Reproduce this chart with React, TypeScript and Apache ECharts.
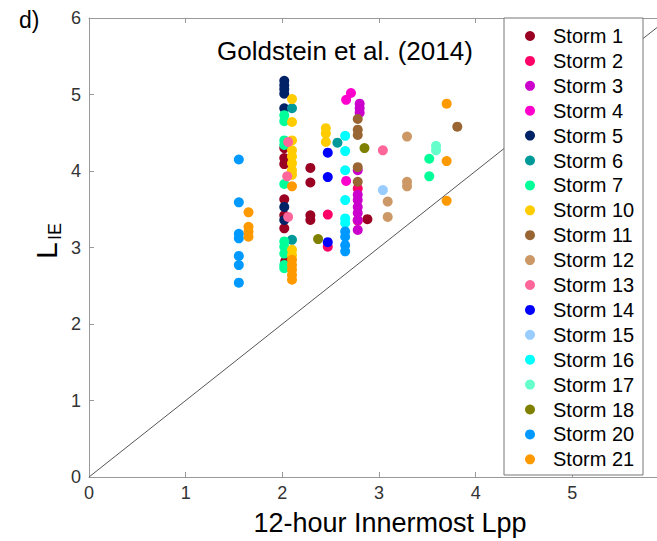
import React, { useEffect, useRef } from "react";
import * as echarts from "echarts";

const storms = ["Storm 1", "Storm 2", "Storm 3", "Storm 4", "Storm 5", "Storm 6", "Storm 7", "Storm 10", "Storm 11", "Storm 12", "Storm 13", "Storm 14", "Storm 15", "Storm 16", "Storm 17", "Storm 18", "Storm 20", "Storm 21"];
const colors = ["#990022", "#ff0066", "#cc00cc", "#ff00cc", "#002266", "#009999", "#00ff99", "#ffcc00", "#996633", "#cc9966", "#ff6699", "#0000ff", "#99ccff", "#00ffff", "#66ffcc", "#808000", "#0099ff", "#ff9900"];

const storm1 = [[2.02, 4.30], [2.02, 4.17], [2.02, 4.09], [2.02, 3.63], [2.02, 3.42], [2.02, 3.25], [2.03, 2.82], [2.29, 4.04], [2.29, 3.85], [2.29, 3.42], [2.29, 3.36], [2.88, 3.37]];
const storm2 = [[2.47, 3.43], [2.47, 3.01], [2.78, 3.77], [2.78, 3.35]];
const storm3 = [[2.80, 4.88], [2.80, 4.82], [2.80, 4.76], [2.78, 4.01], [2.78, 3.69], [2.78, 3.62], [2.78, 3.53], [2.78, 3.45], [2.78, 3.36], [2.78, 3.23]];
const storm4 = [[2.71, 5.02], [2.66, 4.93], [2.66, 3.87]];
const storm5 = [[2.02, 5.18], [2.02, 5.12], [2.02, 5.07], [2.02, 5.01], [2.02, 4.82], [2.02, 3.53], [2.02, 3.36]];
const storm6 = [[2.10, 4.82], [2.10, 3.10], [2.57, 4.37]];
const storm7 = [[2.02, 4.73], [2.02, 4.65], [2.02, 4.40], [2.02, 4.34], [2.02, 3.83], [2.02, 3.08], [2.02, 3.01], [2.02, 2.92], [2.02, 2.77], [2.02, 2.73], [3.52, 4.16], [3.52, 3.93]];
const storm10 = [[2.10, 4.94], [2.10, 4.64], [2.10, 4.40], [2.10, 4.27], [2.10, 4.19], [2.10, 4.10], [2.10, 4.01], [2.10, 3.95], [2.10, 2.97], [2.10, 2.90], [2.45, 4.56], [2.45, 4.49], [2.45, 4.38]];
const storm11 = [[2.78, 4.68], [2.78, 4.54], [2.78, 4.47], [2.78, 4.05], [2.78, 3.86], [3.81, 4.58]];
const storm12 = [[3.29, 4.45], [3.29, 3.86], [3.29, 3.80], [3.09, 3.60], [3.09, 3.40]];
const storm13 = [[2.06, 4.38], [2.05, 3.93], [2.06, 3.40], [3.04, 4.27]];
const storm14 = [[2.47, 4.24], [2.47, 3.92], [2.47, 3.07]];
const storm15 = [[3.04, 3.75]];
const storm16 = [[2.65, 4.46], [2.65, 4.26], [2.65, 4.01], [2.65, 3.62], [2.65, 3.38], [2.65, 3.32]];
const storm17 = [[3.59, 4.33], [3.59, 4.27]];
const storm18 = [[2.37, 3.11], [2.85, 4.30]];
const storm20 = [[1.55, 4.15], [1.55, 3.59], [1.55, 3.18], [1.55, 3.12], [1.55, 2.89], [1.55, 2.77], [1.55, 2.54], [2.65, 3.21], [2.65, 3.14], [2.65, 3.03], [2.65, 2.95]];
const storm21 = [[1.65, 3.46], [1.65, 3.27], [1.65, 3.21], [1.65, 3.14], [2.10, 3.80], [2.10, 2.84], [2.10, 2.77], [2.10, 2.71], [2.10, 2.64], [2.10, 2.58], [3.70, 4.88], [3.70, 4.13], [3.70, 3.61]];

const stormData = [storm1, storm2, storm3, storm4, storm5, storm6, storm7, storm10, storm11, storm12, storm13, storm14, storm15, storm16, storm17, storm18, storm20, storm21];
const oneToOne = [[0, 0], [6, 6]];

const FONT = "'Liberation Sans', Arial, Helvetica, sans-serif";

export default function App() {
  const ref = useRef<HTMLDivElement>(null);
  useEffect(() => {
    document.body.style.margin = "0";
    const chart = echarts.init(ref.current!, null, { renderer: "svg" });
    const axisLine = { show: true, lineStyle: { color: "#999", width: 1 } };
    const tick = { show: true, inside: true, length: 5, lineStyle: { color: "#999" } };
    const series: any[] = [
      {
        type: "line",
        data: oneToOne,
        showSymbol: false,
        symbol: "none",
        lineStyle: { color: "#555", width: 1 },
        silent: true,
        z: 1,
      },
    ];
    storms.forEach((name, i) => {
      series.push({
        type: "scatter",
        name,
        data: stormData[i],
        symbol: "circle",
        symbolSize: 10,
        itemStyle: { color: colors[i], opacity: 1 },
        z: 2,
      });
    });
    chart.setOption({
      animation: false,
      textStyle: { fontFamily: FONT },
      grid: { left: 89, top: 18, width: 580, height: 459, outerBoundsMode: "none", containLabel: false },
      xAxis: [
        {
          type: "value",
          min: 0,
          max: 6,
          interval: 1,
          axisLine,
          axisTick: tick,
          axisLabel: { color: "#333", fontSize: 18, fontFamily: FONT, margin: 7, showMaxLabel: false },
          splitLine: { show: false },
        },
        {
          type: "value",
          position: "top",
          min: 0,
          max: 6,
          interval: 1,
          axisLine,
          axisTick: tick,
          axisLabel: { show: false },
          splitLine: { show: false },
        },
      ],
      yAxis: {
        type: "value",
        min: 0,
        max: 6,
        interval: 1,
        axisLine,
        axisTick: tick,
        axisLabel: { color: "#333", fontSize: 18, fontFamily: FONT, margin: 8 },
        splitLine: { show: false },
      },
      legend: {
        orient: "vertical",
        left: 525,
        top: 18,
        padding: [7, 0, 0, 0],
        itemGap: 2.9,
        itemWidth: 10,
        itemHeight: 10,
        icon: "circle",
        textStyle: { color: "#000", fontSize: 20, lineHeight: 22, fontFamily: FONT, padding: [0, 0, 0, 13] },
        data: storms,
        z: 6,
      },
      graphic: [
        {
          type: "rect",
          shape: { x: 504, y: 18, width: 139, height: 457 },
          style: { fill: "#fff", stroke: "#777", lineWidth: 1 },
          z: 5,
          silent: true,
        },
        {
          type: "text",
          x: 217,
          y: 38,
          style: { text: "Goldstein et al. (2014)", fontSize: 26, fill: "#000", fontFamily: FONT },
          z: 5,
        },
        {
          type: "text",
          x: 390,
          y: 509,
          style: { text: "12-hour Innermost Lpp", fontSize: 27, fill: "#000", fontFamily: FONT, align: "center" },
          z: 5,
        },
        {
          type: "text",
          x: 19,
          y: 8,
          style: { text: "d)", fontSize: 23, fill: "#000", fontFamily: FONT },
          z: 5,
        },
        {
          type: "text",
          x: 31,
          y: 259,
          rotation: Math.PI / 2,
          style: { text: "L", fontSize: 30, fill: "#000", fontFamily: FONT },
          z: 5,
        },
        {
          type: "text",
          x: 46,
          y: 240,
          rotation: Math.PI / 2,
          style: { text: "IE", fontSize: 18, fill: "#000", fontFamily: FONT },
          z: 5,
        },
      ],
      series,
    });
    return () => chart.dispose();
  }, []);
  return <div ref={ref} style={{ position: "absolute", left: 0, top: 0, width: 657, height: 541 }} />;
}
